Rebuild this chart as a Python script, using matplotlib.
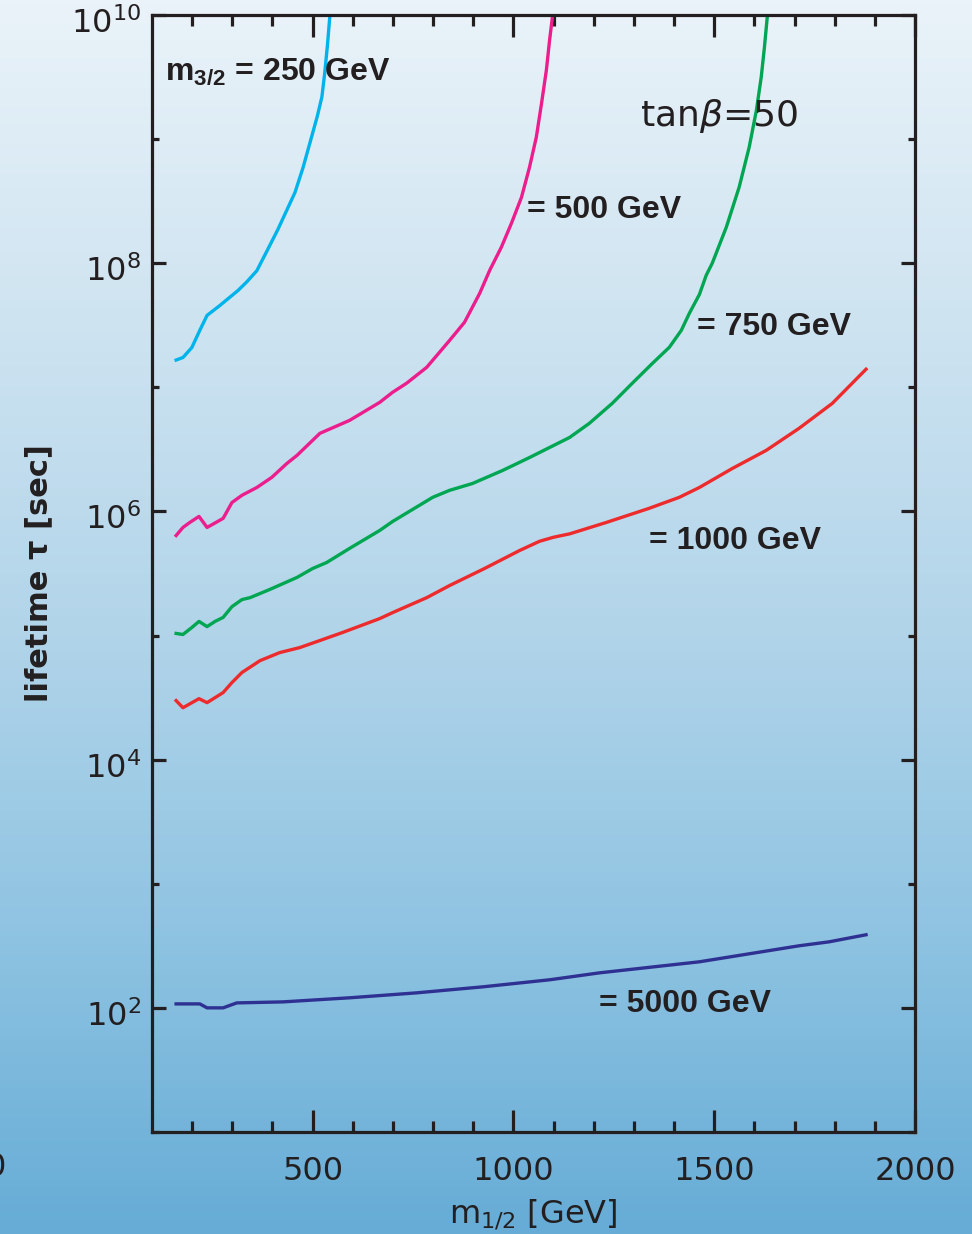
import numpy as np
import matplotlib.pyplot as plt
import matplotlib.transforms as mtransforms
from matplotlib.ticker import FixedLocator, NullFormatter, FuncFormatter
from matplotlib.colors import LinearSegmentedColormap

plt.rcParams['mathtext.fontset'] = 'custom'
plt.rcParams['mathtext.rm'] = 'DejaVu Sans'
plt.rcParams['mathtext.it'] = 'DejaVu Sans:italic'
plt.rcParams['mathtext.bf'] = 'Liberation Sans:bold'

# gravitino lifetime vs m_1/2 for several m_3/2, tan(beta) = 50
m12_250 = [160, 177, 199, 219, 237, 269, 314, 336, 361, 388, 413, 456, 476, 500,
           512, 523, 530, 537, 543, 550]
tau_250 = [1.66e7, 1.74e7, 2.09e7, 2.88e7, 3.80e7, 4.57e7, 6.03e7, 7.08e7, 8.71e7,
           1.29e8, 1.86e8, 3.72e8, 5.89e8, 1.12e9, 1.55e9, 2.19e9, 3.40e9, 5.8e9,
           1.0e10, 2.0e10]

m12_500 = [160, 177, 194, 217, 237, 277, 299, 324, 361, 398, 436, 461, 518, 592, 667,
           699, 734, 784, 841, 878, 916, 941, 970, 995, 1020, 1040, 1057, 1070, 1082,
           1090, 1097, 1104]
tau_500 = [6.40e5, 7.43e5, 8.15e5, 9.12e5, 7.43e5, 8.79e5, 1.18e6, 1.35e6, 1.56e6,
           1.88e6, 2.44e6, 2.83e6, 4.26e6, 5.42e6, 7.57e6, 9.12e6, 1.08e7, 1.45e7,
           2.39e7, 3.34e7, 5.73e7, 8.79e7, 1.35e8, 2.10e8, 3.40e8, 5.94e8, 1.04e9,
           1.95e9, 3.60e9, 6.28e9, 9.64e9, 1.6e10]

m12_750 = [160, 177, 199, 217, 237, 257, 277, 299, 324, 344, 393, 426, 461, 500, 535,
           592, 667, 699, 799, 841, 898, 973, 1040, 1140, 1189, 1246, 1296, 1346, 1388,
           1418, 1438, 1463, 1480, 1495, 1530, 1562, 1587, 1605, 1617, 1625, 1632, 1640]
tau_750 = [1.04e5, 1.02e5, 1.16e5, 1.30e5, 1.18e5, 1.30e5, 1.40e5, 1.71e5, 1.95e5,
           2.02e5, 2.35e5, 2.62e5, 2.94e5, 3.47e5, 3.88e5, 5.04e5, 7.03e5, 8.30e5,
           1.30e6, 1.48e6, 1.68e6, 2.14e6, 2.72e6, 3.95e6, 5.13e6, 7.43e6, 1.08e7,
           1.56e7, 2.10e7, 2.88e7, 3.95e7, 5.60e7, 8.0e7, 1.0e8, 1.95e8, 4.10e8,
           8.61e8, 1.71e9, 3.16e9, 5.52e9, 9.64e9, 1.6e10]

m12_1000 = [160, 177, 217, 237, 277, 299, 324, 369, 418, 468, 518, 575, 667, 699, 784,
            841, 928, 1015, 1065, 1100, 1140, 1231, 1338, 1413, 1463, 1545, 1629, 1711,
            1794, 1878]
tau_1000 = [2.99e4, 2.62e4, 3.10e4, 2.88e4, 3.47e4, 4.18e4, 5.04e4, 6.28e4, 7.29e4,
            8.00e4, 9.12e4, 1.06e5, 1.37e5, 1.53e5, 2.02e5, 2.53e5, 3.47e5, 4.84e5,
            5.75e5, 6.20e5, 6.60e5, 8.15e5, 1.06e6, 1.30e6, 1.56e6, 2.22e6, 3.10e6,
            4.67e6, 7.43e6, 1.40e7]

m12_5000 = [160, 219, 237, 277, 311, 426, 592, 759, 923, 1090, 1214, 1463, 1711, 1786, 1878]
tau_5000 = [107.6, 107.6, 100.0, 100.0, 109.6, 111.7, 120.5, 132.1, 147.6, 168.3,
            191.4, 235.0, 316.2, 340.4, 388.1]

curves = [
    (m12_250, tau_250, '#00b3ea'),
    (m12_500, tau_500, '#ec1d8c'),
    (m12_750, tau_750, '#00a651'),
    (m12_1000, tau_1000, '#ee2b2c'),
    (m12_5000, tau_5000, '#2e3192'),
]

fig = plt.figure(figsize=(9.72, 12.34), dpi=100)

# sky-blue backdrop over the whole figure
bg = fig.add_axes([0, 0, 1, 1], zorder=-10)
grad_cmap = LinearSegmentedColormap.from_list(
    'sky', ['#eaf3f9', '#cfe4f1', '#b3d5ea', '#90c4e2', '#66acd6'])
bg.imshow(np.linspace(0, 1, 256).reshape(-1, 1), aspect='auto', cmap=grad_cmap,
          extent=[0, 1, 0, 1], origin='upper')
bg.set_axis_off()

ax = fig.add_axes([0.1564, 0.0827, 0.785, 0.9051])
ax.set_facecolor('none')

for xs, ys, col in curves:
    ax.plot(xs, ys, color=col, lw=2.4, solid_joinstyle='round')

ax.set_yscale('log')
ax.set_xlim(100, 2000)
ax.set_ylim(10, 1e10)

ink = '#231f20'
for sp in ax.spines.values():
    sp.set_linewidth(2.3)
    sp.set_color(ink)

ax.xaxis.set_major_locator(FixedLocator([500, 1000, 1500, 2000]))
ax.xaxis.set_minor_locator(FixedLocator(np.arange(200, 2000, 100)))
ax.yaxis.set_major_locator(FixedLocator([1e2, 1e4, 1e6, 1e8, 1e10]))
ax.yaxis.set_minor_locator(FixedLocator([1e1, 1e3, 1e5, 1e7, 1e9]))
ax.yaxis.set_major_formatter(
    FuncFormatter(lambda v, p: r'$\mathregular{10^{%d}}$' % round(np.log10(v))))
ax.yaxis.set_minor_formatter(NullFormatter())

ax.tick_params(which='both', direction='in', top=True, right=True,
               color=ink, width=2.3, labelsize=23, labelcolor=ink)
ax.tick_params(axis='x', which='major', length=16, pad=17)
ax.tick_params(axis='x', which='minor', length=8)
ax.tick_params(axis='y', which='major', length=10, pad=8)
ax.tick_params(axis='y', which='minor', length=5)

# nudge the power-of-ten labels a little below their ticks
shift = mtransforms.ScaledTranslation(0, -5 / 100, fig.dpi_scale_trans)
for lbl in ax.get_yticklabels():
    lbl.set_transform(lbl.get_transform() + shift)

ax.set_xlabel(r'm$_{1/2}$ [GeV]', fontsize=23, color=ink, labelpad=8)
ax.set_ylabel('lifetime τ [sec]', fontsize=22, fontweight='bold', color=ink)
ax.yaxis.set_label_coords(-0.13, 0.5)

# clipped tick label at the lower left corner
fig.text(-0.004, 1 - 1168 / 1234, '0', fontsize=23, color=ink,
         ha='center', va='center')

# curve labels
lab = dict(fontsize=23, fontweight='bold', family='Liberation Sans', color=ink,
           ha='left', va='center')
ax.text(132, 10**9.54, r'$\mathbf{m_{3/2}}$ = 250 GeV', **lab)
ax.text(1033, 10**8.43, '= 500 GeV', **lab)
ax.text(1458, 10**7.49, '= 750 GeV', **lab)
ax.text(1338, 10**5.76, '= 1000 GeV', **lab)
ax.text(1214, 10**2.03, '= 5000 GeV', **lab)
ax.text(1316, 10**9.19, r'tan$\it{\beta}$=50', fontsize=26, color=ink,
        ha='left', va='center')

fig.savefig('out.png', dpi=100)
